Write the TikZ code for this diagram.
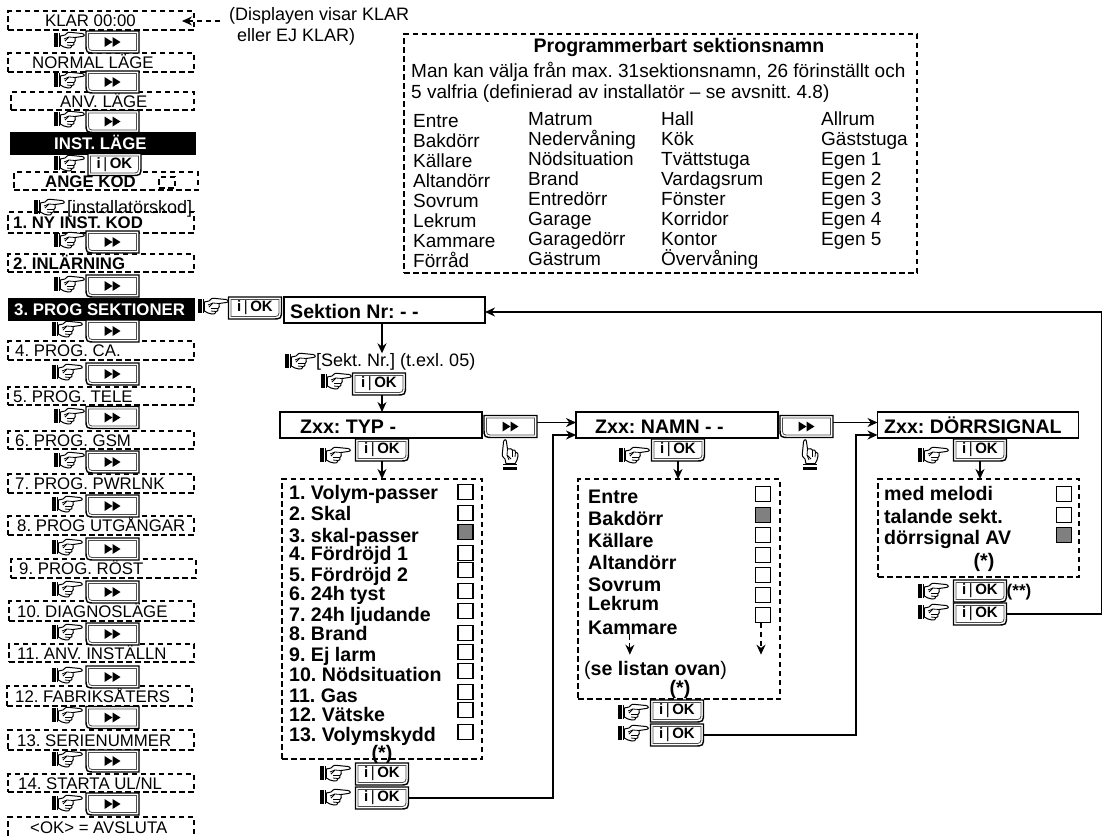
\documentclass[tikz,border=0pt]{standalone}
\usepackage{fontspec}
\setmainfont{Liberation Sans}
\usetikzlibrary{arrows.meta}
\newcommand{\menufont}{\fontsize{16.8}{20}\selectfont}
\newcommand{\notefont}{\fontsize{18}{21}\selectfont}
\newcommand{\namefont}{\fontsize{19}{20}\selectfont}
\newcommand{\rowfont}{\fontsize{19.6}{22}\selectfont\bfseries}
\tikzset{
  dashbox/.style={draw,line width=1.2pt,dash pattern=on 5.5pt off 3.5pt,inner sep=0pt,outer sep=0pt},
  blackbox/.style={draw,fill=black,line width=0.5pt,inner sep=0pt,outer sep=0pt},
  menutext/.style={anchor=west,inner sep=0pt,font=\menufont,text height=12pt,text depth=0pt},
  notetext/.style={anchor=west,inner sep=0pt,font=\notefont,text height=13pt,text depth=0pt},
  nametext/.style={anchor=west,inner sep=0pt,font=\namefont,text height=13.6pt,text depth=0pt},
  namecol/.style={anchor=north west,inner sep=0pt,font=\namefont,align=left},
  rowtext/.style={anchor=west,inner sep=0pt,font=\rowfont,text height=14pt,text depth=0pt},
  starttext/.style={inner sep=0pt,font=\rowfont},
  dispbox/.style={draw,line width=1.6pt,minimum height=26pt,inner sep=0pt,outer sep=0pt},
  chk/.style={draw,line width=1.3pt,minimum size=15pt,inner sep=0pt,outer sep=0pt},
  chkon/.style={chk,fill=black!50},
  btnnode/.style={minimum width=53pt,minimum height=22pt,inner sep=0pt,outer sep=0pt},
  btnrim/.style={line width=1.4pt,fill=white},
  btninner/.style={line width=0.8pt,black!70},
  flow/.style={line width=1.4pt,-{Stealth[length=10pt,width=9pt]}},
  dashflow/.style={line width=1.2pt,dash pattern=on 5.5pt off 3.5pt,-{Stealth[length=10pt,width=9pt]}},
  handicon/.pic={
    \fill (0,-7) rectangle (3.5,7);
    \fill (4.8,-7) rectangle (6.3,7);
    \draw[line width=1pt,fill=white] (6.3,-4) -- (11,-5) .. controls (14,-8) .. (18,-7.5) -- (28,-6.5) .. controls (31,-6) and (31,-3.5) .. (28,-3.5) -- (21,-2.5) .. controls (22,0) and (21,2) .. (20,2.5) .. controls (20,5) .. (18,5.5) .. controls (17,8) .. (14,8) -- (10,7) -- (6.3,5) -- cycle;
    \draw[line width=0.8pt] (10,-1) -- (15,-3) -- (21,-2.5);
    \draw[line width=0.8pt] (11,1) -- (15,-3);
    \draw[line width=0.8pt] (13,2.5) -- (20,2.5);
    \draw[line width=0.8pt] (13,5) -- (18,5.5);
  }
}
\newcommand{\menubox}[7][dashbox]{\node[#1,minimum width={#4-#2},minimum height={#5-#3}] (#2m#3) at ({(#2+#4)/2},{(#3+#5)/2}) {};\node[menutext] (#2t#3) at (#6,{(#3+#5)/2}) {#7};}
\newcommand{\listbox}[5]{\node[dashbox,minimum width={#4-#2},minimum height={#5-#3}] (#1) at ({(#2+#4)/2},{(#3+#5)/2}) {};}
\newcommand{\fwdbtn}[3]{\node[btnnode] (#1) at (#2,#3) {};
  \draw[btnrim] (#1.north east) -- (#1.north west) -- ([yshift=10pt]#1.south west) .. controls (#1.south west) .. ([xshift=10pt]#1.south west) -- (#1.south east) -- cycle;
  \draw[btninner] ([xshift=-2.5pt,yshift=-2.5pt]#1.north east) -- ([xshift=2.5pt,yshift=-2.5pt]#1.north west) -- ([xshift=2.5pt,yshift=10pt]#1.south west) .. controls ([xshift=2.5pt,yshift=2.5pt]#1.south west) .. ([xshift=10pt,yshift=2.5pt]#1.south west) -- ([xshift=-2.5pt,yshift=2.5pt]#1.south east) -- cycle;
  \fill ([xshift=-8pt,yshift=5pt]#1.center) -- ([xshift=0pt]#1.center) -- ([xshift=-8pt,yshift=-5pt]#1.center) -- cycle;
  \fill ([xshift=0pt,yshift=5pt]#1.center) -- ([xshift=8pt]#1.center) -- ([xshift=0pt,yshift=-5pt]#1.center) -- cycle;}
\newcommand{\okbtn}[3]{\node[btnnode] (#1) at (#2,#3) {};
  \draw[btnrim] (#1.north west) -- (#1.north east) -- ([yshift=10pt]#1.south east) .. controls (#1.south east) .. ([xshift=-10pt]#1.south east) -- (#1.south west) -- cycle;
  \draw[btninner] ([xshift=2.5pt,yshift=-2.5pt]#1.north west) -- ([xshift=-2.5pt,yshift=-2.5pt]#1.north east) -- ([xshift=-2.5pt,yshift=10pt]#1.south east) .. controls ([xshift=-2.5pt,yshift=2.5pt]#1.south east) .. ([xshift=-10pt,yshift=2.5pt]#1.south east) -- ([xshift=2.5pt,yshift=2.5pt]#1.south west) -- cycle;
  \node[inner sep=0pt,font=\fontsize{15}{15}\selectfont\bfseries] (#1t) at (#1.center) {i\,\textmd{|}\,OK};}
\begin{document}
\frenchspacing
\begin{tikzpicture}[x=1pt,y=-1pt]
\useasboundingbox (0,0) rectangle (1103,836);
\menubox{8}{11}{194}{30}{45}{KLAR 00:00}
\menubox{8}{53}{194}{72}{32}{NORMAL LÄGE}
\menubox{11}{92}{194}{110}{60}{ANV. LÄGE}
\menubox[blackbox]{10}{132}{195}{154}{54}{\textcolor{white}{\bfseries INST. LÄGE}}
\menubox{14}{172}{198}{190}{45}{\bfseries ANGE KOD}
\listbox{codecell}{159}{177}{175}{188}
\menubox{8}{212}{194}{233}{13}{\bfseries 1. NY INST. KOD}
\menubox{8}{254}{194}{272}{13}{\bfseries 2. INLÄRNING}
\menubox[blackbox]{8}{298}{194}{320}{14}{\textcolor{white}{\bfseries 3. PROG SEKTIONER}}
\menubox{8}{341}{194}{360}{15}{4. PROG. CA.}
\menubox{8}{387}{194}{405}{13}{5. PROG. TELE}
\menubox{8}{431}{194}{449}{15}{6. PROG. GSM}
\menubox{8}{474}{194}{493}{15}{7. PROG. PWRLNK}
\menubox{8}{516}{194}{535}{17}{8. PROG UTGÅNGAR}
\menubox{11}{559}{196}{578}{19}{9. PROG. RÖST}
\menubox{9}{601}{194}{621}{17}{10. DIAGNOSLÄGE}
\menubox{9}{644}{194}{662}{17}{11. ANV. INSTÄLLN}
\menubox{7}{686}{192}{706}{15}{12. FABRIKSÅTERS}
\menubox{8}{730}{194}{750}{17}{13. SERIENUMMER}
\menubox{8}{774}{194}{792}{18}{14. STARTA UL/NL}
\menubox{8}{817}{194}{846}{30}{}
\node[menutext] (avsluta) at (30,827) {<OK> = AVSLUTA};
\fwdbtn{fwda}{112.5}{42}
\fwdbtn{fwdb}{112.5}{82}
\fwdbtn{fwdc}{112.5}{121.5}
\okbtn{instok}{114.5}{164.5}
\fwdbtn{fwdd}{112.5}{242}
\fwdbtn{fwde}{112.5}{286}
\fwdbtn{fwdf}{112.5}{331}
\fwdbtn{fwdg}{112.5}{374}
\fwdbtn{fwdh}{112.5}{417.5}
\fwdbtn{fwdi}{112.5}{462}
\fwdbtn{fwdj}{112.5}{506}
\fwdbtn{fwdk}{112.5}{549}
\fwdbtn{fwdl}{112.5}{592}
\fwdbtn{fwdm}{112.5}{634}
\fwdbtn{fwdn}{112.5}{677}
\fwdbtn{fwdo}{112.5}{717.5}
\fwdbtn{fwdp}{112.5}{761}
\fwdbtn{fwdq}{112.5}{804}
\pic at (54,40) {handicon};
\pic at (54,80) {handicon};
\pic at (54,119) {handicon};
\pic at (54,163) {handicon};
\pic at (34,207) {handicon};
\pic at (54,240) {handicon};
\pic at (54,284) {handicon};
\pic at (52,329) {handicon};
\pic at (52,372) {handicon};
\pic at (54,416) {handicon};
\pic at (54,460) {handicon};
\pic at (52,504) {handicon};
\pic at (52,547) {handicon};
\pic at (52,589) {handicon};
\pic at (52,632) {handicon};
\pic at (52,675) {handicon};
\pic at (52,715) {handicon};
\pic at (52,759) {handicon};
\pic at (52,803) {handicon};
\node[notetext] (instcode) at (67,207) {[installatörskod]};
\node[inner sep=0pt,anchor=north west,font=\notefont,align=left] (dispnote) at (229,7) {(Displayen visar KLAR\\\ \,eller EJ KLAR)};
\coordinate (notepoint) at (220,21);
\draw[dashflow] (notepoint) -- ([xshift=-12pt]notepoint -| 8m11.east);
\listbox{namebox}{404}{34}{917}{273}
\node[inner sep=0pt,font=\rowfont] (nametitle) at (679,47) {Programmerbart sektionsnamn};
\node[nametext] (nameinfoa) at (411,71) {Man kan välja från max. 31sektionsnamn, 26 förinställt och};
\node[nametext] (nameinfob) at (411,92) {5 valfria (definierad av installatör – se avsnitt. 4.8)};
\node[namecol] (namecola) at (413,114) {Entre\\Bakdörr\\Källare\\Altandörr\\Sovrum\\Lekrum\\Kammare\\Förråd};
\node[namecol] (namecolb) at (528,112) {Matrum\\Nedervåning\\Nödsituation\\Brand\\Entredörr\\Garage\\Garagedörr\\Gästrum};
\node[namecol] (namecolc) at (661,112) {Hall\\Kök\\Tvättstuga\\Vardagsrum\\Fönster\\Korridor\\Kontor\\Övervåning};
\node[namecol] (namecold) at (821,112) {Allrum\\Gäststuga\\Egen 1\\Egen 2\\Egen 3\\Egen 4\\Egen 5};
\pic at (198,306) {handicon};
\okbtn{sektionok}{255}{308}
\node[dispbox,minimum width=201pt] (sektion) at (384.5,310) {};
\node[rowtext] (sektiontext) at (290,311) {Sektion Nr: - -};
\pic at (285,361) {handicon};
\node[notetext] (sektnr) at (316,360) {[Sekt. Nr.] (t.exl. 05)};
\pic at (321,381) {handicon};
\okbtn{sektnrok}{379}{384}
\node[dispbox,minimum width=202pt] (typ) at (381,425) {};
\node[rowtext] (typtext) at (300,426) {Zxx: TYP -};
\pic at (320,455) {handicon};
\okbtn{typok}{382}{450}
\fwdbtn{typfwd}{510.5}{426.5}
\pic[rotate=90] at (510,470) {handicon};
\listbox{typlist}{282}{479}{482}{759}
\node[rowtext] (typa) at (289,492) {1. Volym-passer};
\node[rowtext] (typb) at (289,513) {2. Skal};
\node[rowtext] (typc) at (289,535) {3. skal-passer};
\node[rowtext] (typd) at (289,553) {4. Fördröjd 1};
\node[rowtext] (type) at (289,574) {5. Fördröjd 2};
\node[rowtext] (typf) at (289,593) {6. 24h tyst};
\node[rowtext] (typg) at (289,614) {7. 24h ljudande};
\node[rowtext] (typh) at (289,633) {8. Brand};
\node[rowtext] (typi) at (289,654) {9. Ej larm};
\node[rowtext] (typj) at (289,674) {10. Nödsituation};
\node[rowtext] (typk) at (289,695) {11. Gas};
\node[rowtext] (typl) at (289,714) {12. Vätske};
\node[rowtext] (typm) at (289,734) {13. Volymskydd};
\node[chk] (typchka) at (465.5,492) {};
\node[chk] (typchkb) at (465.5,513) {};
\node[chkon] (typchkc) at (465.5,532) {};
\node[chk] (typchkd) at (465.5,553) {};
\node[chk] (typchke) at (465.5,570) {};
\node[chk] (typchkf) at (465.5,591) {};
\node[chk] (typchkg) at (465.5,611) {};
\node[chk] (typchkh) at (465.5,633) {};
\node[chk] (typchki) at (465.5,652) {};
\node[chk] (typchkj) at (465.5,671) {};
\node[chk] (typchkk) at (465.5,692) {};
\node[chk] (typchkl) at (465.5,710) {};
\node[chk] (typchkm) at (465.5,732) {};
\node[starttext] (typstar) at (382,754) {(*)};
\pic at (320,773) {handicon};
\okbtn{typoka}{382}{774}
\pic at (320,797) {handicon};
\okbtn{typokb}{382}{798}
\node[dispbox,minimum width=202pt] (namn) at (677,425) {};
\node[rowtext] (namntext) at (595,426) {Zxx: NAMN - -};
\pic at (619,455) {handicon};
\okbtn{namnok}{678}{450}
\fwdbtn{namnfwd}{806.5}{426.5}
\pic[rotate=90] at (810,470) {handicon};
\listbox{namnlist}{578}{479}{780}{699}
\node[rowtext] (namna) at (588,496) {Entre};
\node[rowtext] (namnb) at (588,518) {Bakdörr};
\node[rowtext] (namnc) at (588,540) {Källare};
\node[rowtext] (namnd) at (588,562) {Altandörr};
\node[rowtext] (namne) at (588,584) {Sovrum};
\node[rowtext] (namnf) at (588,603) {Lekrum};
\node[rowtext] (namng) at (588,627) {Kammare};
\node[chk] (namnchka) at (763,494) {};
\node[chkon] (namnchkb) at (763,515) {};
\node[chk] (namnchkc) at (763,535) {};
\node[chk] (namnchkd) at (763,555) {};
\node[chk] (namnchke) at (763,575) {};
\node[chk] (namnchkf) at (763,595) {};
\node[chk] (namnchkg) at (763,615) {};
\node[inner sep=0pt,font=\fontsize{19.6}{22}\selectfont,anchor=west] (namnsee) at (584,670) {(\textbf{se listan ovan})};
\node[starttext] (namnstar) at (680,689) {(*)};
\pic at (618,712) {handicon};
\okbtn{namnoka}{677}{711}
\pic at (618,733) {handicon};
\okbtn{namnokb}{677}{735}
\node[dispbox,minimum width=201pt] (dorr) at (978,425) {};
\node[rowtext] (dorrtext) at (884,426) {Zxx: DÖRRSIGNAL};
\pic at (918,455) {handicon};
\okbtn{dorrok}{980}{450}
\listbox{dorrlist}{878}{479}{1079}{577}
\node[rowtext] (dorra) at (884,493) {med melodi};
\node[rowtext] (dorrb) at (884,516) {talande sekt.};
\node[rowtext] (dorrc) at (884,537) {dörrsignal AV};
\node[chk] (dorrchka) at (1064,494) {};
\node[chk] (dorrchkb) at (1064,515) {};
\node[chkon] (dorrchkc) at (1064,535) {};
\node[starttext] (dorrstar) at (984,562) {(*)};
\pic at (918,591) {handicon};
\okbtn{dorroka}{980}{591}
\node[starttext,font=\fontsize{17}{20}\selectfont\bfseries] (dorrstars) at (1019,592) {(**)};
\pic at (918,612) {handicon};
\okbtn{dorrokb}{980}{614}
\draw[flow] ([xshift=-2.5pt]sektion.south) -- ([xshift=-2.5pt]sektion.south |- sektnr.north);
\draw[flow] ([xshift=3pt]sektnrok.south) -- ([xshift=3pt]sektnrok.south |- typ.north);
\draw[flow] (typok.south) -- (typok.south |- typlist.north);
\draw[flow] (namnok.south) -- (namnok.south |- namnlist.north);
\draw[flow] (dorrok.south) -- (dorrok.south |- dorrlist.north);
\draw[flow] ([yshift=4pt]typfwd.east) -- ([yshift=4pt]typfwd.east -| namn.west);
\draw[flow] ([yshift=4pt]namnfwd.east) -- ([yshift=4pt]namnfwd.east -| dorr.west);
\coordinate (typturn) at (553,435);
\coordinate (namnturn) at (856,435);
\coordinate (backturn) at (1101.5,312);
\draw[flow] (typokb.east) -| (typturn) -- (typturn -| namn.west);
\draw[flow] (namnokb.east) -| (namnturn) -- (namnturn -| dorr.west);
\draw[flow] (dorrokb.east) -| (backturn) -- (backturn -| sektion.east);
\draw[dashflow] ([xshift=-3pt]namng.south) -- ([xshift=-3pt,yshift=6pt]namng.south |- namnsee.north);
\draw[dashflow] ([xshift=-2pt]namnchkg.south) -- ([xshift=-2pt,yshift=6pt]namnchkg.south |- namnsee.north);
\end{tikzpicture}
\end{document}
